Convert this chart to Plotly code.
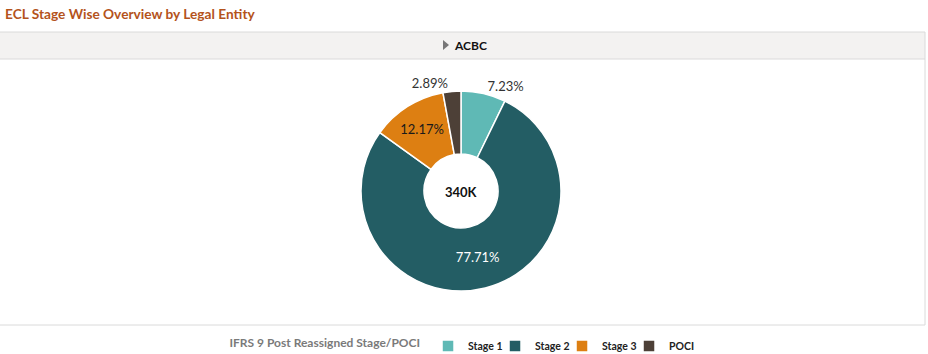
import plotly.graph_objects as go

W, H = 928, 354

stages = ["Stage 1", "Stage 2", "Stage 3", "POCI"]
values = [24582, 264214, 41378, 9826]
colors = ["#5FB9B5", "#235D64", "#DD7F12", "#4D4037"]
text_pos = ["outside", "inside", "inside", "outside"]
text_colors = ["#333333", "#FFFFFF", "#1a1a1a", "#333333"]
total_label = "340K"
entity = "ACBC"
title = "ECL Stage Wise Overview by Legal Entity"
legend_title = "IFRS 9 Post Reassigned Stage/POCI"

def py(px):
    return 1 - px / H

def px_(x):
    return x / W

fig = go.Figure()
fig.add_trace(go.Pie(
    labels=stages,
    values=values,
    hole=0.37,
    sort=False,
    direction="clockwise",
    rotation=0,
    marker=dict(colors=colors, line=dict(color="white", width=1.5)),
    textinfo="percent",
    texttemplate="%{percent:.2%}",
    textposition=text_pos,
    insidetextorientation="horizontal",
    textfont=dict(family="Lato", size=13, color=text_colors),
    outsidetextfont=dict(family="Lato", size=13, color="#333333"),
    domain=dict(x=[px_(361), px_(561)], y=[py(291), py(91)]),
    showlegend=True,
    hoverinfo="label+value+percent",
))

line_col = "#DADADA"
shapes = [
    dict(type="rect", xref="paper", yref="paper", x0=0, x1=px_(925), y0=py(59), y1=py(32),
         fillcolor="#F3F2F1", line=dict(width=0), layer="below"),
    dict(type="line", xref="paper", yref="paper", x0=0, x1=px_(925), y0=py(32), y1=py(32),
         line=dict(color=line_col, width=1)),
    dict(type="line", xref="paper", yref="paper", x0=0, x1=px_(925), y0=py(59), y1=py(59),
         line=dict(color=line_col, width=1)),
    dict(type="line", xref="paper", yref="paper", x0=0, x1=px_(925), y0=py(325), y1=py(325),
         line=dict(color=line_col, width=1)),
    dict(type="line", xref="paper", yref="paper", x0=px_(925), x1=px_(925), y0=py(325), y1=py(32),
         line=dict(color=line_col, width=1)),
    dict(type="path", xref="paper", yref="paper",
         path=f"M {px_(443)} {py(40)} L {px_(449)} {py(45)} L {px_(443)} {py(50)} Z",
         fillcolor="#777777", line=dict(width=0)),
]

annotations = [
    dict(text=f"<b>{title}</b>", x=px_(3), y=py(13), xref="paper", yref="paper",
         xanchor="left", yanchor="middle", showarrow=False,
         font=dict(family="Lato", size=13.7, color="#B4531C")),
    dict(text=f"<b>{entity}</b>", x=px_(452), y=py(45), xref="paper", yref="paper",
         xanchor="left", yanchor="middle", showarrow=False,
         font=dict(family="Lato", size=12, color="#111111")),
    dict(text=f"<b>{total_label}</b>", x=px_(461), y=py(191.5), xref="paper", yref="paper",
         xanchor="center", yanchor="middle", showarrow=False,
         font=dict(family="Lato", size=13, color="#111111")),
]

fig.update_layout(
    width=W, height=H,
    margin=dict(l=0, r=0, t=0, b=0, autoexpand=False),
    paper_bgcolor="white",
    plot_bgcolor="white",
    shapes=shapes,
    annotations=annotations,
    legend=dict(
        orientation="h",
        x=px_(462), xanchor="center",
        y=py(346), yanchor="middle",
        title=dict(text=legend_title, font=dict(family="Lato", size=12, color="#7A7A7A"), side="left"),
        font=dict(family="Lato", size=10.5, color="#222222", weight="bold"),
        itemwidth=30,
        entrywidth=22,
        entrywidthmode="pixels",
        traceorder="normal",
    ),
)

fig.write_html("out.html")
